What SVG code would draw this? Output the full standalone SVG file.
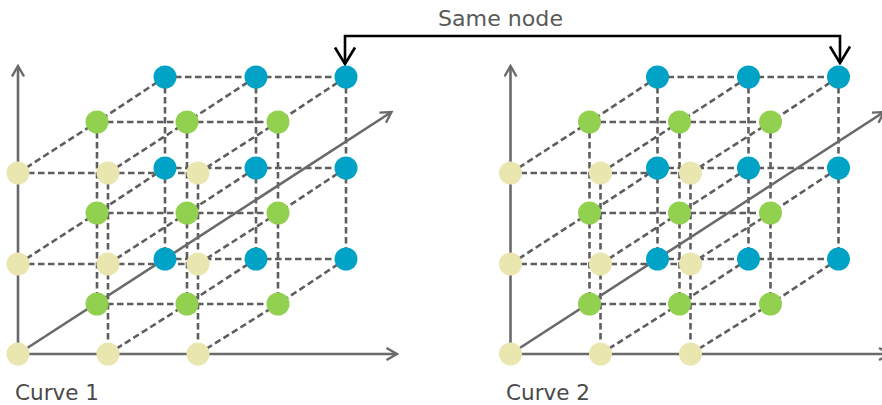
<svg xmlns="http://www.w3.org/2000/svg" width="882" height="405" viewBox="0 0 882 405">
  <style>
    .dash { stroke: #5e5e5e; stroke-width: 2.6; stroke-dasharray: 6.5 3.5; fill: none; }
    .axis { stroke: #6a6a6a; stroke-width: 2.6; fill: none; marker-end: url(#axArrow); }
    .yel { fill: #EAE6B0; }
    .grn { fill: #92D050; }
    .blu { fill: #00A3C6; }
    .lbl { font-family: "DejaVu Sans", "Liberation Sans", sans-serif; font-size: 21px; fill: #4a4a4a; }
    .conn { stroke: #000; stroke-width: 2.6; fill: none; }
  </style>
  <defs>
    <marker id="axArrow" viewBox="0 0 14 14" refX="12" refY="7" markerWidth="14" markerHeight="14" markerUnits="userSpaceOnUse" orient="auto">
      <path d="M1.5,1 L12,7 L1.5,13" fill="none" stroke="#6a6a6a" stroke-width="2.4"/>
    </marker>
    <marker id="blkArrow" viewBox="0 0 20 24" refX="18" refY="12" markerWidth="20" markerHeight="24" markerUnits="userSpaceOnUse" orient="auto-start-reverse">
      <path d="M1.5,2 L18,12 L1.5,22" fill="none" stroke="#000" stroke-width="2.6"/>
    </marker>
    <g id="cubeLines">
      <path class="dash" d="M18,173 H198 M18,264 H198 M108,173 V354 M198,173 V354"/>
      <path class="dash" d="M97,122 H278 M97,213 H278 M97,304 H278 M97,122 V304 M187,122 V304 M278,122 V304"/>
      <path class="dash" d="M165,77 H346 M165,168 H346 M165,259 H346 M165,77 V259 M256,77 V259 M346,77 V259"/>
      <path class="dash" d="M18,173 L97,122 L165,77 M108,173 L187,122 L256,77 M198,173 L278,122 L346,77
                            M18,264 L97,213 L165,168 M108,264 L187,213 L256,168 M198,264 L278,213 L346,168
                            M108,354 L187,304 L256,259 M198,354 L278,304 L346,259"/>
      <path class="axis" d="M18,354 V66"/>
      <path class="axis" d="M18,354 H397"/>
      <path class="axis" d="M18,354 L391.5,112"/>
    </g>
  </defs>

  <g id="connectors">
    <use href="#cubeLines"/>
    <use href="#cubeLines" transform="translate(492.5,0)"/>
    <path id="same-node-link" class="conn" d="M345,64 V36 H840 V63" marker-start="url(#blkArrow)" marker-end="url(#blkArrow)"/>
  </g>

  <g id="curve1">
    <g id="c1-y00"><circle class="yel" cx="18" cy="173" r="11.5"/></g>
    <g id="c1-y10"><circle class="yel" cx="108" cy="173" r="11.5"/></g>
    <g id="c1-y20"><circle class="yel" cx="198" cy="173" r="11.5"/></g>
    <g id="c1-y01"><circle class="yel" cx="18" cy="264" r="11.5"/></g>
    <g id="c1-y11"><circle class="yel" cx="108" cy="264" r="11.5"/></g>
    <g id="c1-y21"><circle class="yel" cx="198" cy="264" r="11.5"/></g>
    <g id="c1-y02"><circle class="yel" cx="18" cy="354" r="11.5"/></g>
    <g id="c1-y12"><circle class="yel" cx="108" cy="354" r="11.5"/></g>
    <g id="c1-y22"><circle class="yel" cx="198" cy="354" r="11.5"/></g>
    <g id="c1-g00"><circle class="grn" cx="97" cy="122" r="11.5"/></g>
    <g id="c1-g10"><circle class="grn" cx="187" cy="122" r="11.5"/></g>
    <g id="c1-g20"><circle class="grn" cx="278" cy="122" r="11.5"/></g>
    <g id="c1-g01"><circle class="grn" cx="97" cy="213" r="11.5"/></g>
    <g id="c1-g11"><circle class="grn" cx="187" cy="213" r="11.5"/></g>
    <g id="c1-g21"><circle class="grn" cx="278" cy="213" r="11.5"/></g>
    <g id="c1-g02"><circle class="grn" cx="97" cy="304" r="11.5"/></g>
    <g id="c1-g12"><circle class="grn" cx="187" cy="304" r="11.5"/></g>
    <g id="c1-g22"><circle class="grn" cx="278" cy="304" r="11.5"/></g>
    <g id="c1-b00"><circle class="blu" cx="165" cy="77" r="11.5"/></g>
    <g id="c1-b10"><circle class="blu" cx="256" cy="77" r="11.5"/></g>
    <g id="c1-b20"><circle class="blu" cx="346" cy="77" r="11.5"/></g>
    <g id="c1-b01"><circle class="blu" cx="165" cy="168" r="11.5"/></g>
    <g id="c1-b11"><circle class="blu" cx="256" cy="168" r="11.5"/></g>
    <g id="c1-b21"><circle class="blu" cx="346" cy="168" r="11.5"/></g>
    <g id="c1-b02"><circle class="blu" cx="165" cy="259" r="11.5"/></g>
    <g id="c1-b12"><circle class="blu" cx="256" cy="259" r="11.5"/></g>
    <g id="c1-b22"><circle class="blu" cx="346" cy="259" r="11.5"/></g>
  </g>

  <g id="curve2" transform="translate(492.5,0)">
    <g id="c2-y00"><circle class="yel" cx="18" cy="173" r="11.5"/></g>
    <g id="c2-y10"><circle class="yel" cx="108" cy="173" r="11.5"/></g>
    <g id="c2-y20"><circle class="yel" cx="198" cy="173" r="11.5"/></g>
    <g id="c2-y01"><circle class="yel" cx="18" cy="264" r="11.5"/></g>
    <g id="c2-y11"><circle class="yel" cx="108" cy="264" r="11.5"/></g>
    <g id="c2-y21"><circle class="yel" cx="198" cy="264" r="11.5"/></g>
    <g id="c2-y02"><circle class="yel" cx="18" cy="354" r="11.5"/></g>
    <g id="c2-y12"><circle class="yel" cx="108" cy="354" r="11.5"/></g>
    <g id="c2-y22"><circle class="yel" cx="198" cy="354" r="11.5"/></g>
    <g id="c2-g00"><circle class="grn" cx="97" cy="122" r="11.5"/></g>
    <g id="c2-g10"><circle class="grn" cx="187" cy="122" r="11.5"/></g>
    <g id="c2-g20"><circle class="grn" cx="278" cy="122" r="11.5"/></g>
    <g id="c2-g01"><circle class="grn" cx="97" cy="213" r="11.5"/></g>
    <g id="c2-g11"><circle class="grn" cx="187" cy="213" r="11.5"/></g>
    <g id="c2-g21"><circle class="grn" cx="278" cy="213" r="11.5"/></g>
    <g id="c2-g02"><circle class="grn" cx="97" cy="304" r="11.5"/></g>
    <g id="c2-g12"><circle class="grn" cx="187" cy="304" r="11.5"/></g>
    <g id="c2-g22"><circle class="grn" cx="278" cy="304" r="11.5"/></g>
    <g id="c2-b00"><circle class="blu" cx="165" cy="77" r="11.5"/></g>
    <g id="c2-b10"><circle class="blu" cx="256" cy="77" r="11.5"/></g>
    <g id="c2-b20"><circle class="blu" cx="346" cy="77" r="11.5"/></g>
    <g id="c2-b01"><circle class="blu" cx="165" cy="168" r="11.5"/></g>
    <g id="c2-b11"><circle class="blu" cx="256" cy="168" r="11.5"/></g>
    <g id="c2-b21"><circle class="blu" cx="346" cy="168" r="11.5"/></g>
    <g id="c2-b02"><circle class="blu" cx="165" cy="259" r="11.5"/></g>
    <g id="c2-b12"><circle class="blu" cx="256" cy="259" r="11.5"/></g>
    <g id="c2-b22"><circle class="blu" cx="346" cy="259" r="11.5"/></g>
  </g>

  <g id="labels">
    <text class="lbl" x="438" y="26" textLength="125" lengthAdjust="spacingAndGlyphs" style="fill:#595959">Same node</text>
    <text class="lbl" x="15" y="400" textLength="84" lengthAdjust="spacingAndGlyphs">Curve 1</text>
    <text class="lbl" x="506" y="400" textLength="84" lengthAdjust="spacingAndGlyphs">Curve 2</text>
  </g>
</svg>
